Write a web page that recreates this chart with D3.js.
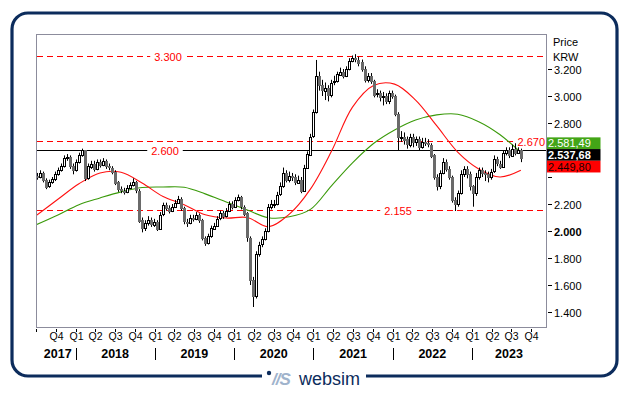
<!DOCTYPE html>
<html><head><meta charset="utf-8">
<script src="https://cdn.jsdelivr.net/npm/d3@7"></script>
<style>body{margin:0;background:#fff}svg{display:block;font-family:"Liberation Sans",Arial,sans-serif}</style>
</head><body><svg id="c" width="629" height="395"></svg>
<script>
// ---------- DATA ----------
const firstDate = "2017-07-07";
const lastDate  = "2023-08-14";
const firstOpen = 2410;
const closes = [2400,2430,2380,2330,2360,2385,2420,2450,2480,2540,
2550,2480,2450,2510,2560,2600,2390,2480,2500,2460,
2510,2490,2520,2480,2470,2440,2360,2310,2300,2290,
2320,2340,2360,2300,2080,2020,2060,2080,2050,2070,
2020,2120,2190,2170,2150,2180,2210,2240,2170,2070,
2060,2100,2090,2120,2080,1950,1910,1960,2020,2040,
2090,2130,2110,2150,2200,2180,2230,2250,2180,2130,
1950,1640,1520,1830,1900,1940,2000,2180,2200,2200,
2270,2330,2430,2380,2410,2400,2360,2380,2300,2470,
2570,2700,2880,3150,3080,3040,3060,3010,3100,3110,
3160,3180,3150,3200,3260,3280,3270,3250,3200,3120,
3150,3110,3010,3020,2990,3000,2960,3020,3000,2870,
2700,2700,2680,2640,2700,2660,2680,2620,2660,2650,
2640,2560,2400,2330,2430,2510,2460,2400,2230,2200,
2280,2420,2460,2420,2330,2280,2400,2450,2430,2420,
2400,2440,2530,2500,2480,2580,2600,2560,2610,2580,
2600,2537.68];
const highs = [2430,2450,2440,2390,2380,2400,2440,2470,2500,2560,
2570,2560,2500,2530,2580,2610,2600,2500,2520,2520,
2530,2530,2540,2530,2500,2480,2450,2370,2330,2320,
2340,2360,2390,2370,2310,2100,2080,2110,2100,2090,
2080,2140,2210,2210,2190,2200,2230,2260,2250,2180,
2090,2120,2120,2140,2130,2090,1960,1980,2040,2060,
2110,2150,2150,2170,2220,2220,2250,2270,2260,2190,
2140,1960,1660,1850,1920,1960,2020,2200,2230,2230,
2290,2360,2470,2450,2440,2430,2420,2410,2400,2490,
2590,2720,2900,3267,3180,3120,3100,3080,3120,3150,
3180,3210,3200,3220,3280,3300,3310,3290,3270,3220,
3170,3170,3120,3050,3040,3030,3020,3040,3040,3010,
2880,2740,2730,2700,2720,2720,2700,2700,2690,2690,
2680,2650,2570,2420,2450,2540,2530,2480,2410,2250,
2300,2450,2480,2480,2440,2340,2430,2470,2470,2450,
2440,2460,2560,2550,2520,2600,2620,2620,2640,2650,
2620,2610];
const lows = [2380,2390,2360,2310,2320,2350,2370,2410,2440,2470,
2520,2460,2420,2440,2500,2550,2370,2380,2460,2440,
2450,2470,2480,2460,2450,2420,2340,2290,2280,2270,
2280,2310,2330,2280,2060,1990,2000,2040,2030,2030,
2000,2010,2110,2150,2130,2140,2170,2200,2150,2050,
2030,2050,2070,2080,2060,1930,1890,1900,1950,2010,
2030,2080,2090,2100,2140,2160,2170,2220,2160,2110,
1920,1600,1437,1500,1810,1880,1930,1990,2160,2170,
2190,2260,2320,2360,2360,2370,2340,2350,2280,2290,
2460,2560,2690,2870,3040,3000,2970,2960,2990,3080,
3100,3150,3130,3140,3190,3250,3250,3220,3180,3100,
3100,3090,2990,2990,2960,2930,2940,2940,2980,2850,
2600,2660,2640,2610,2620,2620,2630,2600,2610,2630,
2620,2540,2380,2300,2310,2420,2440,2380,2210,2148,
2180,2270,2400,2390,2300,2180,2260,2380,2400,2370,
2360,2380,2430,2480,2460,2470,2560,2540,2550,2560,
2570,2510];
// moving averages sampled every maStep candles
const maStep = 7;
const maRed = [2118,2235,2350,2430,2435,2355,2255,2195,2120,2096,2100,2032,2125,2310,2590,2918,3078,3088,2970,2780,2585,2460,2400,2449.80];
const maGreen = [2048,2118,2195,2245,2290,2322,2326,2324,2275,2215,2155,2098,2105,2160,2335,2505,2648,2748,2822,2860,2865,2810,2715,2581.49];
const levelValues = [3300, 2670, 2600, 2155];
const levelLabels = ["3.300", "2.670", "2.600", "2.155"];
const yTickValues = [1400,1600,1800,2000,2200,2400,2600,2800,3000,3200];
const yearLabels = [2017,2018,2019,2020,2021,2022,2023];
const axisTitle = ["Price", "KRW"];
const brand = "websim";

// ---------- SETUP ----------
const svg = d3.select("#c");
const plot = {l:36, r:546, t:34, b:327};
const loc = d3.formatLocale({decimal:",", thousands:".", grouping:[3], currency:["",""]});
const fmt0 = loc.format(",.0f"), fmt2 = loc.format(",.2f");

const x = d3.scaleTime().domain([new Date(2017,6,3), new Date(2023,11,8)]).range([plot.l, plot.r]);
const y = d3.scaleLinear().domain([2000 - (plot.b-231)/0.135, 2000 + (231-plot.t)/0.135]).range([plot.b, plot.t]);

const t0 = new Date(firstDate+"T00:00:00").getTime(), t1 = new Date(lastDate+"T00:00:00").getTime();
const n = closes.length;
const candles = closes.map((c,i)=>({
  date: new Date(t0 + (t1-t0)*i/(n-1)),
  o: i===0 ? firstOpen : closes[i-1], h: highs[i], l: lows[i], c
}));

// outer frame
svg.append("rect").attr("x",12).attr("y",13).attr("width",605).attr("height",363)
  .attr("rx",16).attr("fill","#fff").attr("stroke","#0c2c5c").attr("stroke-width",3.2);

// plot background + border
svg.append("rect").attr("x",plot.l+0.5).attr("y",plot.t+0.5).attr("width",plot.r-plot.l).attr("height",plot.b-plot.t)
  .attr("fill","#fff").attr("stroke","#8c8c9c").attr("stroke-width",1);

const g = svg.append("g");
svg.append("clipPath").attr("id","pc").append("rect")
  .attr("x",plot.l+1).attr("y",plot.t+1).attr("width",plot.r-plot.l-1).attr("height",plot.b-plot.t-1);
const pg = g.append("g").attr("clip-path","url(#pc)");

// level lines
const levelStyle = [
  {color:"#ff0000", dash:"6,4", lx:168, anchor:"middle", x2:plot.r},
  {color:"#ff0000", dash:"6,4", lx:545, anchor:"end", x2:515},
  {color:"#000000", dash:null, lx:165, anchor:"middle", x2:plot.r},
  {color:"#ff0000", dash:"6,4", lx:398, anchor:"middle", x2:plot.r}
];
levelValues.forEach((v,i)=>{
  const s = levelStyle[i], yy = Math.round(y(v))+0.5;
  pg.append("line").attr("x1",plot.l+1).attr("x2",s.x2).attr("y1",yy).attr("y2",yy)
    .attr("stroke",s.color).attr("stroke-width",1.2).attr("stroke-dasharray",s.dash);
  const t = pg.append("text").attr("x",s.lx).attr("y",yy+4).attr("text-anchor",s.anchor)
    .attr("font-size",11).attr("fill","#ff0000").text(levelLabels[i]);
  const bb = t.node().getBBox();
  pg.insert("rect", function(){return t.node();}).attr("x",bb.x-4).attr("y",bb.y).attr("width",bb.width+8).attr("height",bb.height).attr("fill","#fff");
});

// moving averages
const line = d3.line().x(d=>x(d.date)).y(d=>y(d.v)).curve(d3.curveCatmullRom.alpha(0.5));
const maPts = arr => arr.map((v,k)=>({date:candles[Math.min(k*maStep,n-1)].date, v}));
pg.append("path").datum(maPts(maGreen)).attr("d",line).attr("fill","none").attr("stroke","#3a9a0a").attr("stroke-width",1.1);
pg.append("path").datum(maPts(maRed)).attr("d",line).attr("fill","none").attr("stroke","#ff1010").attr("stroke-width",1.1);

// candles
const cg = pg.append("g");
candles.forEach(d=>{
  const cx = Math.round(x(d.date));
  const up = d.c >= d.o;
  cg.append("line").attr("x1",cx+0.5).attr("x2",cx+0.5).attr("y1",y(d.h)).attr("y2",y(d.l)).attr("stroke","#000").attr("stroke-width",1);
  const top = y(Math.max(d.o,d.c)), bot = y(Math.min(d.o,d.c));
  const yt = Math.round(top)+0.5, hh = Math.max(1, Math.round(bot-top));
  cg.append("rect").attr("x",cx-0.5).attr("y",yt).attr("width",2).attr("height",hh)
    .attr("fill", up ? "#fff" : "#6a6a6a").attr("stroke", up ? "#000" : "#6a6a6a").attr("stroke-width",1);
});

// value boxes geometry
const lastClose = closes[n-1], lastGreen = maGreen[maGreen.length-1], lastRed = maRed[maRed.length-1];
const bh = 11.7, bcY = y(lastClose) - 3.5;
const boxes = [
  {v:lastGreen, fill:"#43a517", tc:"#fff", bold:false, cy:bcY-bh},
  {v:lastClose, fill:"#000", tc:"#fff", bold:true, cy:bcY},
  {v:lastRed, fill:"#ff0000", tc:"#1a0000", bold:false, cy:bcY+bh}
];
const boxTop = bcY - 1.5*bh, boxBot = bcY + 1.5*bh;

// y axis
const ya = svg.append("g");
yTickValues.forEach(v=>{
  const yy = Math.round(y(v))+0.5;
  ya.append("line").attr("x1",plot.r+2).attr("x2",plot.r+6).attr("y1",yy).attr("y2",yy).attr("stroke","#000");
  if (yy > boxTop - 4 && yy < boxBot + 7) return; // label covered by value boxes
  ya.append("text").attr("x",plot.r+8).attr("y",yy+4).attr("font-size",11)
    .attr("font-weight", v===2000 ? "bold" : "normal").attr("fill","#000").text(fmt0(v));
});
axisTitle.forEach((t,i)=>svg.append("text").attr("x",plot.r+7).attr("y",46+i*15).attr("font-size",11).text(t));

boxes.forEach(b=>{
  svg.append("rect").attr("x",plot.r+1).attr("y",b.cy-bh/2).attr("width",53.5).attr("height",bh).attr("fill",b.fill);
  svg.append("text").attr("x",plot.r+2).attr("y",b.cy+4).attr("font-size",11).attr("font-weight",b.bold?"bold":"normal")
    .attr("fill",b.tc).text(fmt2(b.v));
});

// x axis: quarters
const xa = svg.append("g");
const quarters = d3.timeMonth.every(3).range(new Date(2017,6,2), x.domain()[1]);
quarters.forEach(q=>{
  const xx = Math.round(x(q))+0.5;
  xa.append("line").attr("x1",xx).attr("x2",xx).attr("y1",plot.b+2).attr("y2",plot.b+5).attr("stroke","#000");
  xa.append("text").attr("x",xx).attr("y",plot.b+13).attr("text-anchor","middle").attr("font-size",10.5)
    .text("Q"+(Math.floor(q.getMonth()/3)+1));
});
xa.append("line").attr("x1",plot.l+0.5).attr("x2",plot.l+0.5).attr("y1",plot.b+2).attr("y2",plot.b+5).attr("stroke","#000");
// years
yearLabels.forEach(yr=>{
  const a = Math.max(x(new Date(yr,0,1)), plot.l), b = Math.min(x(new Date(yr+1,0,1)), plot.r);
  if (yr > yearLabels[0]) {
    const xx = Math.round(x(new Date(yr,0,1)))+0.5;
    xa.append("line").attr("x1",xx).attr("x2",xx).attr("y1",plot.b+21).attr("y2",plot.b+33).attr("stroke","#000");
  }
  xa.append("text").attr("x",(a+b)/2 + (yr===yearLabels[0]?2:0)).attr("y",plot.b+31).attr("text-anchor","middle").attr("font-size",12.5)
    .attr("font-weight","bold").text(yr);
});

// brand at bottom
const by = 376;
svg.append("rect").attr("x",262).attr("y",by-4).attr("width",104).attr("height",12).attr("fill","#fff");
svg.append("circle").attr("cx",269).attr("cy",by-3).attr("r",2.2).attr("fill","#0c2c5c");
svg.append("text").attr("x",272).attr("y",by+9).attr("font-size",17).attr("font-weight","bold").attr("font-style","italic")
  .attr("fill","#9fb3cc").attr("letter-spacing",-1).text("//S");
svg.append("text").attr("x",299).attr("y",by+9).attr("font-size",18).attr("fill","#0c2c5c").text(brand);
</script></body></html>
